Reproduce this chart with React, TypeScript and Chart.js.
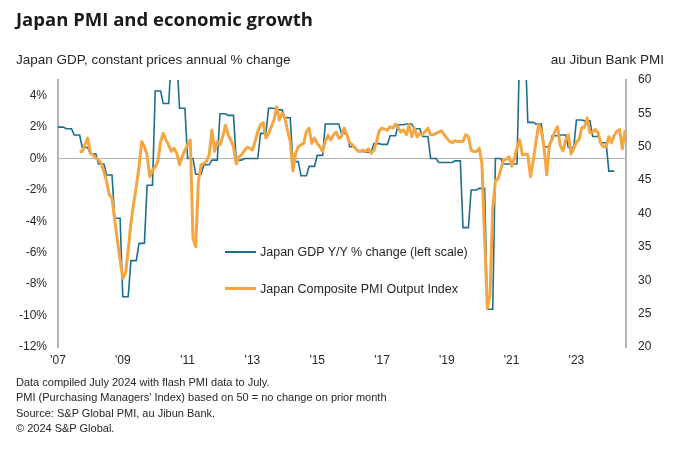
import React, { useEffect, useRef } from 'react';
import { Chart, registerables } from 'chart.js';
Chart.register(...registerables);

// Japan GDP y/y % change, quarterly, from Q1 2007
const gdpStartYear = 2007;
const gdpQuarterly = [
  2.0, 1.9, 1.5, 0.7,
  0.3, -0.35, -1.05, -3.8,
  -8.8, -6.5, -5.4, -1.7,
  4.3, 3.5, 6.5, 3.2,
  0.0, -1.0, -0.4, -0.1,
  2.85, 2.75, -0.1, 0.0,
  0.0, 1.6, 3.2, 3.1,
  2.6, -0.2, -1.1, -0.5,
  0.2, 2.2, 2.2, 1.6,
  0.75, 0.45, 0.4, 0.95,
  0.9, 1.45, 2.15, 2.2,
  1.9, 1.4, 0.0, -0.25,
  -0.25, -0.15, -4.4, -2.0,
  -1.9, -9.6, 0.0, -0.35,
  -0.35, 7.3, 2.3, 2.2,
  0.75, 1.45, 1.5, 0.7,
  2.45, 2.4, 1.4, 1.0,
  -0.8,
];

// Japan Composite PMI Output Index, monthly, from Sep 2007
const pmiStartYear = 2007;
const pmiStartMonth = 9;
const pmiMonthly = [
  49.3, 49.3, 50.3, 51.3,
  49.0, 48.8, 48.3, 48.0, 47.5, 46.3, 44.8, 42.8, 42.3, 39.0, 36.0, 33.0,
  30.3, 31.0, 34.5, 38.5, 41.5, 44.0, 47.0, 50.8, 50.0, 48.8, 45.5, 46.5,
  47.0, 47.8, 50.8, 52.0, 51.0, 50.2, 49.3, 49.8, 49.0, 47.3, 48.5, 49.5,
  50.3, 51.0, 36.3, 35.0, 44.8, 47.3, 47.5, 47.8, 48.8, 52.5, 49.3, 50.8,
  50.3, 51.5, 53.2, 51.8, 51.0, 50.0, 47.4, 48.5, 48.8, 49.4, 49.9, 49.8,
  49.5, 50.8, 52.3, 53.3, 53.6, 51.3, 52.0, 53.0, 54.0, 56.0, 54.0, 55.0,
  54.3, 52.5, 50.8, 46.4, 49.0, 50.0, 50.3, 50.5, 52.3, 52.8, 50.5, 51.3,
  50.5, 50.0, 49.3, 50.8, 51.7, 51.0, 51.8, 52.2, 51.3, 51.5, 52.8, 51.8,
  50.6, 50.3, 49.8, 49.4, 49.3, 49.5, 49.3, 49.7, 49.0, 49.5, 50.8, 52.4,
  52.8, 52.6, 52.5, 53.0, 52.8, 53.4, 52.9, 52.2, 52.5, 51.8, 53.3, 51.5,
  52.8, 51.5, 52.0, 51.8, 52.3, 52.8, 51.8, 51.8, 52.0, 52.2, 52.4, 51.8,
  51.3, 50.8, 50.6, 50.9, 50.8, 50.8, 50.8, 51.8, 51.5, 49.5, 49.3, 49.3,
  49.8, 47.5, 36.2, 25.8, 27.8, 40.8, 44.9, 45.2, 46.6, 48.0, 48.1, 48.5,
  47.1, 48.2, 49.9, 51.0, 48.8, 48.9, 48.8, 45.5, 47.9, 50.7, 53.3, 52.5,
  49.9, 45.8, 50.3, 51.1, 52.3, 53.0, 50.2, 49.4, 51.0, 51.8, 48.9, 49.7,
  50.7, 51.1, 52.9, 52.9, 54.3, 52.1, 52.2, 52.6, 52.1, 50.5, 50.0, 50.0,
  51.5, 50.6, 51.7, 52.3, 52.6, 49.7, 52.5,
];

const xTickYears = [2007, 2009, 2011, 2013, 2015, 2017, 2019, 2021, 2023];
const xMin = 2007;
const xMax = 2024.53;

const gdpLabel = 'Japan GDP Y/Y % change (left scale)';
const pmiLabel = 'Japan Composite PMI Output Index';
const titleText = 'Japan PMI and economic growth';
const leftAxisTitle = 'Japan GDP, constant prices annual % change';
const rightAxisTitle = 'au Jibun Bank PMI';
const footnotes = [
  'Data compiled July 2024 with flash PMI data to July.',
  "PMI (Purchasing Managers' Index) based on 50 = no change on prior month",
  'Source: S&P Global PMI, au Jibun Bank.',
  '\u00A9 2024 S&P Global.',
];

const BLUE = '#1d6e8c';
const ORANGE = '#f5a640';
const AXIS_GREY = '#b4b4b4';
const TEXT = '#262626';
const FONT = "'Liberation Sans', Arial, sans-serif";

export default function App() {
  const canvasRef = useRef<HTMLCanvasElement | null>(null);

  useEffect(() => {
    document.body.style.margin = '0';
    const canvas = canvasRef.current;
    if (!canvas) return;

    const gdpPoints = gdpQuarterly.flatMap((v, i) =>
      [0, 1, 2].map((k) => ({ x: gdpStartYear + (3 * i + k) / 12, y: v }))
    );
    const pmiPoints = pmiMonthly.map((v, i) => ({
      x: pmiStartYear + (pmiStartMonth - 1 + i) / 12,
      y: v,
    }));

    const tickFont = { family: FONT, size: 12 };

    const chart = new Chart(canvas, {
      type: 'line',
      data: {
        datasets: [
          {
            label: gdpLabel,
            data: gdpPoints,
            borderColor: BLUE,
            borderWidth: 1.6,
            pointRadius: 0,
            yAxisID: 'y',
            order: 1,
            tension: 0,
          },
          {
            label: pmiLabel,
            data: pmiPoints,
            borderColor: ORANGE,
            borderWidth: 3,
            pointRadius: 0,
            yAxisID: 'y2',
            order: 0,
            tension: 0,
            borderJoinStyle: 'round',
          },
        ],
      },
      options: {
        animation: false,
        responsive: false,
        maintainAspectRatio: false,
        parsing: false,
        layout: { padding: { top: 80, bottom: 80, left: 0, right: 0 } },
        plugins: { legend: { display: false }, tooltip: { enabled: false } },
        scales: {
          x: {
            type: 'linear',
            min: xMin,
            max: xMax,
            afterBuildTicks: (s: any) => {
              s.ticks = xTickYears.map((v) => ({ value: v }));
            },
            afterFit: (s: any) => {
              s.height = 25;
            },
            ticks: {
              callback: (v: any) => "'" + String(v).slice(2),
              font: tickFont,
              color: TEXT,
              padding: 6,
              maxRotation: 0,
              autoSkip: false,
            },
            grid: { display: false, drawTicks: false },
            border: { display: false },
          },
          y: {
            position: 'left',
            min: -12,
            max: 5,
            afterFit: (s: any) => {
              s.width = 58;
            },
            ticks: {
              stepSize: 2,
              includeBounds: false,
              callback: (v: any) => v + '%',
              font: tickFont,
              color: TEXT,
              padding: 11,
            },
            grid: {
              drawTicks: false,
              color: (ctx: any) => (ctx.tick && ctx.tick.value === 0 ? AXIS_GREY : 'rgba(0,0,0,0)'),
              lineWidth: 1,
            },
            border: { display: true, color: AXIS_GREY, width: 2 },
          },
          y2: {
            position: 'right',
            min: 20,
            max: 60,
            afterFit: (s: any) => {
              s.width = 54;
            },
            ticks: {
              stepSize: 5,
              font: tickFont,
              color: TEXT,
              padding: 12,
            },
            grid: { display: false, drawTicks: false },
            border: { display: true, color: AXIS_GREY, width: 2 },
          },
        },
      },
    } as any);

    return () => chart.destroy();
  }, []);

  const abs = (style: React.CSSProperties): React.CSSProperties => ({
    position: 'absolute',
    whiteSpace: 'nowrap',
    color: TEXT,
    ...style,
  });

  return (
    <div style={{ position: 'relative', width: 680, height: 452, background: '#fff', overflow: 'hidden' }}>
      <canvas ref={canvasRef} width={680} height={452} style={{ position: 'absolute', left: 0, top: 0, width: 680, height: 452 }} />
      <div style={abs({ left: 16, top: 6, font: `700 18.5px 'Open Sans', sans-serif`, lineHeight: '26px', color: '#1a1a1a' })}>{titleText}</div>
      <div style={abs({ left: 16, top: 51, font: `13.5px ${FONT}`, lineHeight: '18px' })}>{leftAxisTitle}</div>
      <div style={abs({ right: 16, top: 51, font: `13.5px ${FONT}`, lineHeight: '18px' })}>{rightAxisTitle}</div>
      <div style={abs({ left: 225, top: 251, width: 31, height: 2, background: BLUE })} />
      <div style={abs({ left: 260, top: 243, font: `12.5px ${FONT}`, lineHeight: '18px' })}>{gdpLabel}</div>
      <div style={abs({ left: 225, top: 287, width: 31, height: 3, background: ORANGE })} />
      <div style={abs({ left: 260, top: 280, font: `12.5px ${FONT}`, lineHeight: '18px' })}>{pmiLabel}</div>
      {footnotes.map((t, i) => (
        <div key={i} style={abs({ left: 16, top: 375 + i * 15.4, font: `11px ${FONT}`, lineHeight: '15px' })}>{t}</div>
      ))}
    </div>
  );
}
